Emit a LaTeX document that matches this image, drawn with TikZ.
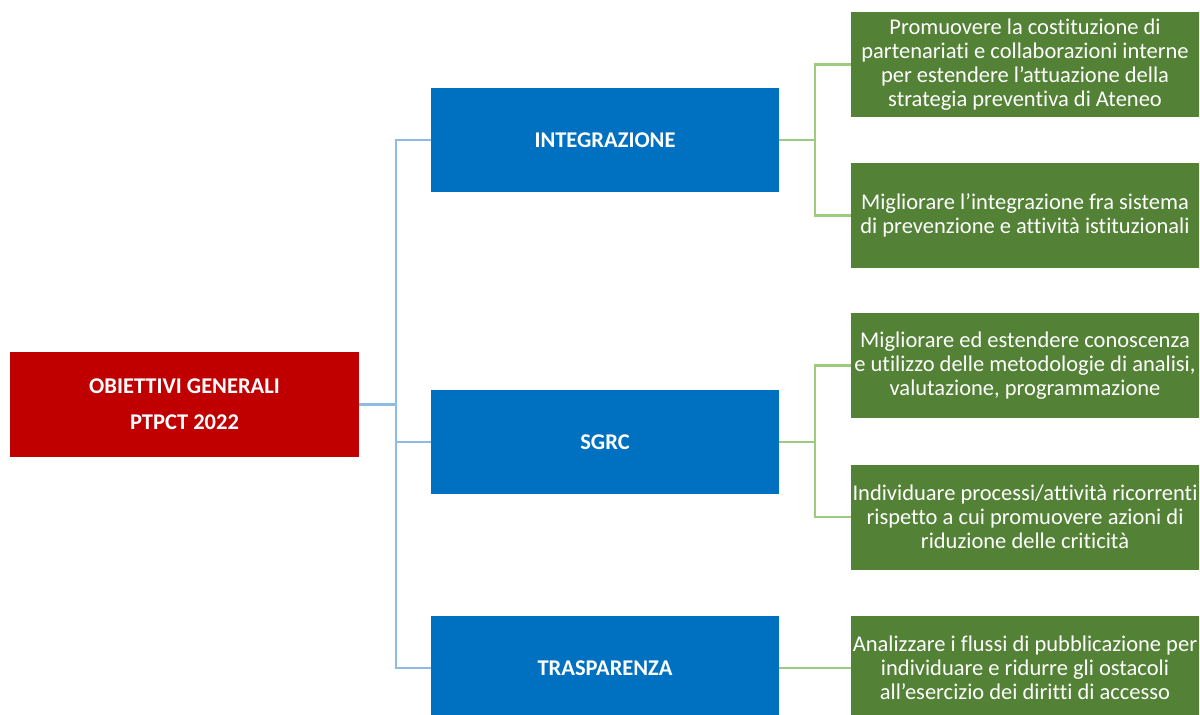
\documentclass[tikz,border=0pt]{standalone}
\usepackage{fontspec}
\setmainfont{Carlito}[Ligatures=NoCommon]
\usepackage{tikz}
\usetikzlibrary{positioning,calc}
\definecolor{rootred}{HTML}{C00000}
\definecolor{topicblue}{HTML}{0070C0}
\definecolor{goalgreen}{HTML}{538135}
\definecolor{linkblue}{HTML}{8FBCE6}
\definecolor{linkgreen}{HTML}{9DCB7E}

\begin{document}
\begin{tikzpicture}[font=\fontsize{16}{17}\selectfont,
  root/.style={fill=rootred,text=white,font=\fontsize{16}{17}\selectfont\bfseries,align=center,minimum width=8.725cm,minimum height=2.625cm,inner sep=0pt},
  topic/.style={fill=topicblue,text=white,font=\fontsize{16}{17}\selectfont\bfseries,align=center,minimum width=8.7cm,minimum height=2.6cm,inner sep=0pt},
  goal/.style={fill=goalgreen,text=white,align=center,minimum width=8.7cm,minimum height=2.625cm,inner sep=0pt},
  bline/.style={linkblue,line width=1.6pt},
  gline/.style={linkgreen,line width=1.6pt}]
\useasboundingbox (0,0) rectangle (30,-17.875);
% radice e obiettivi
\node[root] (obj) at (4.6125,-10.1125) {OBIETTIVI GENERALI\\[8.5pt]PTPCT 2022};
\node[topic] (int) at (15.125,-3.5) {INTEGRAZIONE};
\node[topic] (sgrc) at (15.125,-11.05) {SGRC};
\node[topic] (tra) at (15.125,-16.7) {TRASPARENZA};
% azioni
\node[goal] (g1) at (25.625,-1.6125) {Promuovere la costituzione di\\partenariati e collaborazioni interne\\per estendere l’attuazione della\\strategia preventiva di Ateneo};
\node[goal] (g2) at (25.625,-5.3875) {Migliorare l’integrazione fra sistema\\di prevenzione e attività istituzionali};
\node[goal] (g3) at (25.625,-9.1375) {Migliorare ed estendere conoscenza\\e utilizzo delle metodologie di analisi,\\valutazione, programmazione};
\node[goal] (g4) at (25.625,-12.925) {Individuare processi/attività ricorrenti\\rispetto a cui promuovere azioni di\\riduzione delle criticità};
\node[goal] (g5) at (25.625,-16.7) {Analizzare i flussi di pubblicazione per\\individuare e ridurre gli ostacoli\\all’esercizio dei diritti di accesso};
% collegamenti
\coordinate (bt) at (9.9,-10.1125);
\coordinate (gi) at (20.375,-3.5);
\coordinate (gs) at (20.375,-11.05);
\draw[bline] (obj.east) -- (bt);
\draw[bline] (bt) |- (int.west);
\draw[bline] (bt) |- (sgrc.west);
\draw[bline] (bt) |- (tra.west);
\draw[gline] (int.east) -- (gi);
\draw[gline] (gi) |- (g1.west);
\draw[gline] (gi) |- (g2.west);
\draw[gline] (sgrc.east) -- (gs);
\draw[gline] (gs) |- (g3.west);
\draw[gline] (gs) |- (g4.west);
\draw[gline] (tra.east) -- (g5.west);
\end{tikzpicture}
\end{document}
